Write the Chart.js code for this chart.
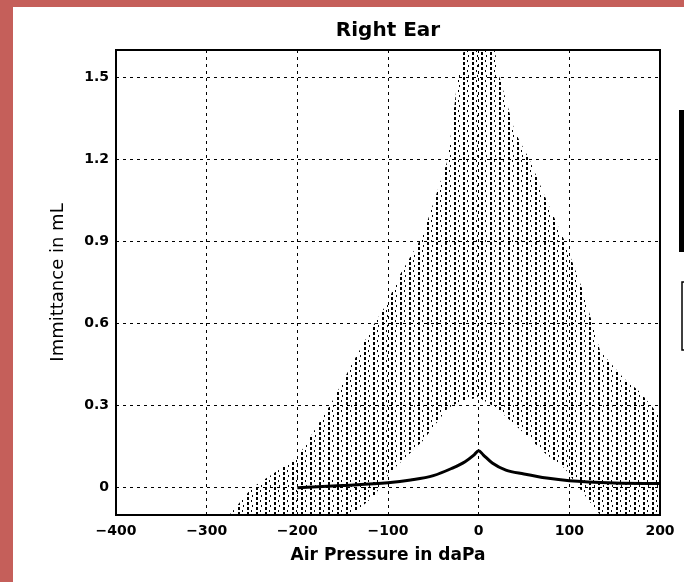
<!DOCTYPE html>
<html>
<head>
<meta charset="utf-8">
<script src="https://cdn.jsdelivr.net/npm/chart.js@4/dist/chart.umd.min.js"></script>
<style>
  html, body { margin: 0; padding: 0; background: #c55f5a; width: 684px; height: 582px; overflow: hidden; }
  #wrap { position: absolute; left: 13px; top: 7px; width: 671px; height: 575px; background: #fff; }
  canvas { display: block; }
</style>
</head>
<body>
<div id="wrap"><canvas id="c" width="671" height="575"></canvas></div>
<script>
// ---- data ----
const chartTitle = 'Right Ear';
const bandPressure = [-275, -250, -200, -164, -140, -115, -100, -90, -62, -34, -23, -13, 0, 15, 23, 40, 56, 75, 95, 115, 134, 160, 178, 200];
const bandUpper    = [-0.1, 0.0, 0.11, 0.3, 0.45, 0.6, 0.68, 0.76, 0.92, 1.2, 1.5, 1.65, 1.8, 1.65, 1.5, 1.3, 1.2, 1.05, 0.9, 0.72, 0.5, 0.4, 0.35, 0.26];
const bandLower    = [-0.1, -0.1, -0.1, -0.1, -0.1, -0.03, 0.045, 0.08, 0.17, 0.29, 0.31, 0.32, 0.33, 0.3, 0.28, 0.23, 0.18, 0.12, 0.07, -0.02, -0.1, -0.1, -0.1, -0.1];

const tympPressure = [-200, -150, -100, -75, -50, -30, -15, -5, 0, 5, 15, 30, 50, 75, 100, 150, 200];
const tympValue    = [0.0, 0.008, 0.018, 0.028, 0.044, 0.07, 0.095, 0.12, 0.135, 0.12, 0.09, 0.064, 0.05, 0.035, 0.025, 0.017, 0.015];

const yTickValues = [0, 0.3, 0.6, 0.9, 1.2, 1.5];
const yTickLabels = ['0', '0.3', '0.6', '0.9', '1.2', '1.5'];
const xTickValues = [-400, -300, -200, -100, 0, 100, 200];
const xTickLabels = ['\u2212400', '\u2212300', '\u2212200', '\u2212100', '0', '100', '200'];

// ---- hatch pattern for the normative region ----
function makeHatch() {
  const p = document.createElement('canvas');
  p.width = 9; p.height = 10;
  const g = p.getContext('2d');
  g.fillStyle = '#000';
  g.fillRect(0, 0, 2, 3);
  g.fillRect(0, 5, 2, 3);
  g.fillRect(4, 3, 1, 2);
  g.fillRect(5, 8, 1, 2);
  return g.createPattern(p, 'repeat');
}
const ctx = document.getElementById('c').getContext('2d');
const hatch = makeHatch();

const frame = {
  id: 'frame',
  afterDatasetsDraw(chart) {
    const a = chart.chartArea, g = chart.ctx;
    g.save();
    g.strokeStyle = '#000';
    g.lineWidth = 2;
    g.strokeRect(a.left, a.top, a.right - a.left, a.bottom - a.top);
    g.restore();
  },
  afterDraw(chart) {
    const a = chart.chartArea, g = chart.ctx;
    g.save();
    // title centred over the plot area
    g.fillStyle = '#000';
    g.font = 'bold 20px "DejaVu Sans"';
    g.textAlign = 'center';
    g.textBaseline = 'middle';
    g.fillText(chartTitle, (a.left + a.right) / 2, 24);
    // cut-off legend boxes at the right edge
    g.fillRect(666, 103, 5, 142);
    g.strokeStyle = '#000';
    g.lineWidth = 1.5;
    g.beginPath();
    g.moveTo(671, 275); g.lineTo(669, 275); g.lineTo(669, 343); g.lineTo(671, 343);
    g.stroke();
    g.restore();
  }
};

new Chart(ctx, {
  type: 'line',
  data: {
    datasets: [
      {
        label: 'upper',
        data: bandPressure.map((x, i) => ({ x, y: bandUpper[i] })),
        borderWidth: 0,
        pointRadius: 0,
        fill: false
      },
      {
        label: 'lower',
        data: bandPressure.map((x, i) => ({ x, y: bandLower[i] })),
        borderWidth: 0,
        pointRadius: 0,
        backgroundColor: hatch,
        fill: '-1'
      },
      {
        label: chartTitle,
        data: tympPressure.map((x, i) => ({ x, y: tympValue[i] })),
        borderColor: '#000',
        borderWidth: 3,
        pointRadius: 0,
        cubicInterpolationMode: 'monotone',
        fill: false
      }
    ]
  },
  options: {
    responsive: false,
    animation: false,
    layout: { padding: { left: 0, right: 24, top: 43, bottom: 0 } },
    plugins: {
      legend: { display: false },
      tooltip: { enabled: false },
      title: { display: false }
    },
    scales: {
      x: {
        type: 'linear',
        min: -400, max: 200,
        afterFit(s) { s.height = 67; },
        afterBuildTicks(s) { s.ticks = xTickValues.map(v => ({ value: v })); },
        ticks: {
          color: '#000',
          padding: 8,
          maxRotation: 0,
          font: { family: 'DejaVu Sans', size: 14, weight: 'bold' },
          callback: (v) => xTickLabels[xTickValues.indexOf(v)]
        },
        grid: { color: '#000', lineWidth: 1, drawTicks: false },
        border: { display: false, dash: [3, 4] },
        title: {
          display: true,
          text: 'Air Pressure in daPa',
          color: '#000',
          font: { family: 'DejaVu Sans', size: 17, weight: 'bold' },
          padding: { top: 0, bottom: 16 }
        }
      },
      y: {
        min: -0.1, max: 1.6,
        afterFit(s) { s.width = 103; },
        afterBuildTicks(s) { s.ticks = yTickValues.map(v => ({ value: v })); },
        ticks: {
          color: '#000',
          padding: 7,
          font: { family: 'DejaVu Sans', size: 14, weight: 'bold' },
          callback: (v) => yTickLabels[yTickValues.indexOf(v)]
        },
        grid: { color: '#000', lineWidth: 1, drawTicks: false },
        border: { display: false, dash: [3, 4] },
        title: {
          display: true,
          text: 'Immittance in mL',
          color: '#000',
          font: { family: 'DejaVu Sans', size: 18, weight: 'normal' },
          padding: { top: 35, bottom: 0 }
        }
      }
    }
  },
  plugins: [frame]
});
</script>
</body>
</html>
